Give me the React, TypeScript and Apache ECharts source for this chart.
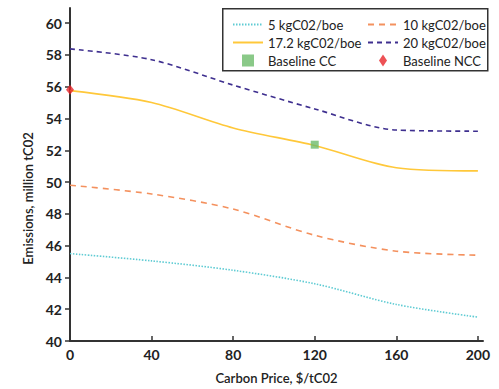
import React, { useEffect, useRef } from "react";
import * as echarts from "echarts";

const prices = [0, 40, 80, 120, 160, 200];
const s5 = [45.5, 45.04, 44.45, 43.6, 42.3, 41.5];
const s10 = [49.8, 49.25, 48.3, 46.65, 45.65, 45.4];
const s172 = [55.75, 55.0, 53.4, 52.3, 50.9, 50.7];
const s20 = [58.38, 57.7, 56.1, 54.6, 53.27, 53.2];
const baselineCC: [number, number][] = [[120, 52.35]];
const baselineNCC: [number, number][] = [[0, 55.8]];
const yTicks = [40, 42, 44, 46, 48, 50, 52, 54, 56, 58, 60];
const xTicks = [0, 40, 80, 120, 160, 200];

const FONT = "Lato";

export default function App() {
  const ref = useRef<HTMLDivElement>(null);
  useEffect(() => {
    if (!ref.current) return;
    const chart = echarts.init(ref.current, null, { renderer: "svg" });
    const pair = (arr: number[]) => prices.map((p, i) => [p, arr[i]]);
    const lineSeries = (name: string, data: number[], color: string, type: any) => ({
      name,
      type: "line",
      data: pair(data),
      smooth: 0.3,
      showSymbol: false,
      symbol: "none",
      lineStyle: { color, width: 1.6, type },
      itemStyle: { color },
    });
    const hideSym = { opacity: 0 };
    chart.setOption({
      animation: false,
      textStyle: { fontFamily: FONT },
      grid: { left: 70, right: 16, top: 8, bottom: 45 },
      xAxis: {
        type: "value",
        min: 0,
        max: 202.5,
        name: "Carbon Price, $/tC02",
        nameLocation: "middle",
        nameGap: 30,
        nameTextStyle: { fontSize: 13, fontWeight: 600, color: "#222", fontFamily: FONT },
        axisLine: { show: true, lineStyle: { color: "#333", width: 2 } },
        axisTick: { show: true, inside: true, length: 5, lineStyle: { color: "#333", width: 1.5 }, customValues: xTicks },
        axisLabel: { customValues: xTicks, fontSize: 14, fontWeight: "bold", color: "#222", margin: 6, fontFamily: FONT },
        splitLine: { show: false },
      },
      yAxis: {
        type: "value",
        min: 40,
        max: 60.95,
        name: "Emissions, million tC02",
        nameLocation: "middle",
        nameGap: 32,
        nameTextStyle: { fontSize: 13, fontWeight: 600, color: "#222", fontFamily: FONT, padding: [0, 0, 0, -48] },
        axisLine: { show: true, lineStyle: { color: "#333", width: 2 } },
        axisTick: { show: true, inside: false, length: 5, lineStyle: { color: "#333", width: 1.5 }, customValues: yTicks },
        axisLabel: { customValues: yTicks, fontSize: 14, fontWeight: "bold", color: "#222", margin: 8, fontFamily: FONT },
        splitLine: { show: false },
      },
      graphic: [
        {
          type: "rect",
          left: 222,
          top: 8,
          shape: { width: 265, height: 62 },
          style: { fill: "#fff", stroke: "#333", lineWidth: 1.5 },
          z: 90,
        },
      ],
      legend: [
        {
          orient: "vertical",
          left: 232,
          top: 18,
          padding: 0,
          itemWidth: 30,
          itemHeight: 12,
          itemGap: 5,
          z: 100,
          textStyle: { fontSize: 13, color: "#222", fontFamily: FONT },
          data: [
            { name: "5 kgC02/boe", itemStyle: hideSym },
            { name: "17.2 kgC02/boe", itemStyle: hideSym },
            { name: "Baseline CC", icon: "path://M0,0h10v10h-10z" },
          ],
        },
        {
          orient: "vertical",
          left: 367,
          top: 18,
          padding: 0,
          itemWidth: 30,
          itemHeight: 12,
          itemGap: 5,
          z: 100,
          textStyle: { fontSize: 13, color: "#222", fontFamily: FONT },
          data: [
            { name: "10 kgC02/boe", itemStyle: hideSym },
            { name: "20 kgC02/boe", itemStyle: hideSym },
            { name: "Baseline NCC", icon: "path://M4,0L8,6L4,12L0,6z" },
          ],
        },
      ],
      series: [
        lineSeries("5 kgC02/boe", s5, "#5ECBD3", [1.5, 1.5]),
        lineSeries("10 kgC02/boe", s10, "#F4915E", [6, 5]),
        lineSeries("17.2 kgC02/boe", s172, "#FFC83A", "solid"),
        lineSeries("20 kgC02/boe", s20, "#3E2F8F", [5, 4]),
        {
          name: "Baseline CC",
          type: "scatter",
          data: baselineCC,
          symbol: "rect",
          symbolSize: 8,
          itemStyle: { color: "#6DBB6A" },
          z: 10,
        },
        {
          name: "Baseline NCC",
          type: "scatter",
          data: baselineNCC,
          symbol: "diamond",
          symbolSize: [8, 10],
          itemStyle: { color: "#E8262B" },
          z: 10,
        },
      ],
    });
    return () => chart.dispose();
  }, []);
  return <div ref={ref} style={{ position: "absolute", left: 0, top: 0, width: 499, height: 389 }} />;
}
